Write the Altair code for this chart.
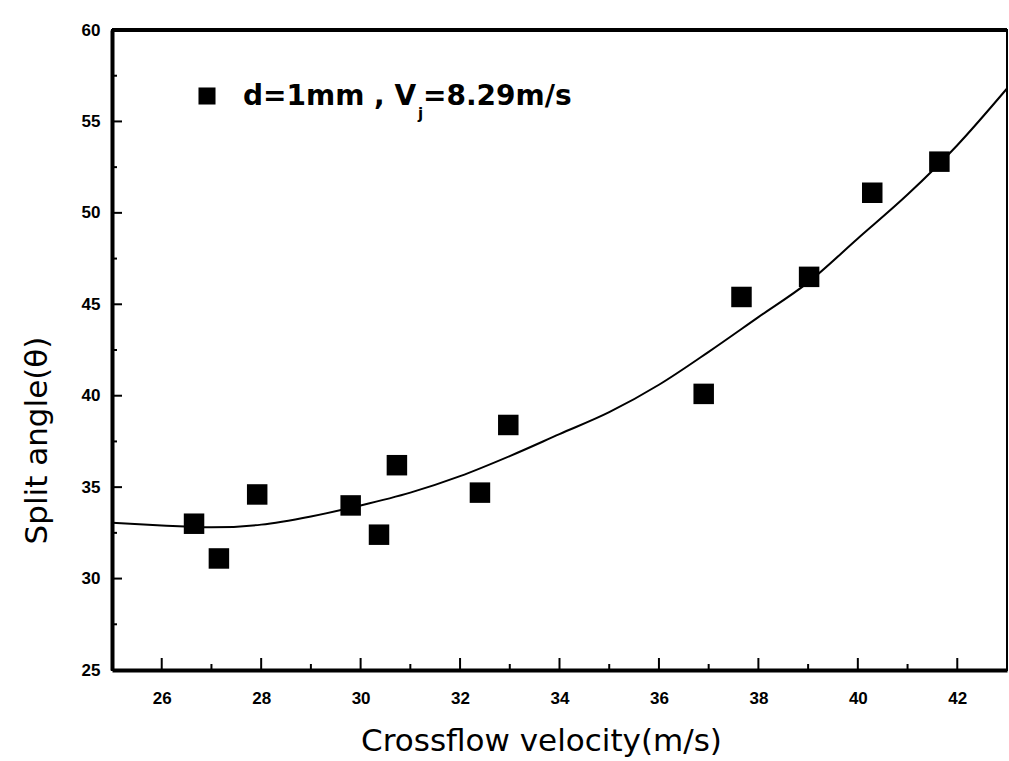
import altair as alt
import pandas as pd

# measured points
velocity = [26.65, 27.15, 27.92, 29.8, 30.37, 30.73, 32.4, 32.97, 36.9, 37.66, 39.02, 40.29, 41.64]
angle = [33.0, 31.1, 34.6, 34.0, 32.4, 36.2, 34.7, 38.4, 40.1, 45.4, 46.5, 51.1, 52.8]

# fitted curve
fit_velocity = [25, 26, 27, 28, 29, 30, 31, 32, 33, 34, 35, 36, 37, 38, 39, 40, 41, 42, 43]
fit_angle = [33.05, 32.9, 32.8, 32.95, 33.4, 34.0, 34.7, 35.6, 36.7, 37.9, 39.1, 40.6,
             42.4, 44.3, 46.2, 48.6, 51.0, 53.7, 56.8]

x_major = [26, 28, 30, 32, 34, 36, 38, 40, 42]
x_minor = [27, 29, 31, 33, 35, 37, 39, 41]
y_major = [30, 35, 40, 45, 50, 55]
y_minor = [27.5, 32.5, 37.5, 42.5, 47.5, 52.5, 57.5]
y_labels = [25, 30, 35, 40, 45, 50, 55, 60]

legend_text = ["d=1mm , V", "j", "=8.29m/s"]

W, H = 895, 640
xs = alt.Scale(domain=[25, 43], nice=False, zero=False)
ys = alt.Scale(domain=[25, 60], nice=False, zero=False)

x_axis = alt.Axis(
    title="Crossflow velocity(m/s)", values=x_major, format="d",
    grid=False, ticks=False, tickSize=0, labelPadding=20,
    labelFont="Liberation Sans", labelFontWeight="bold", labelFontSize=17,
    labelColor="black", domainColor="black", domainWidth=4,
    titleFont="DejaVu Sans", titleFontWeight="normal", titleFontSize=31,
    titleColor="black", titleX=429, titleY=71, titleBaseline="middle")
y_axis = alt.Axis(
    title="Split angle(\u03b8)", values=y_labels, format="d",
    grid=False, ticks=False, tickSize=0, labelPadding=12,
    labelFont="Liberation Sans", labelFontWeight="bold", labelFontSize=17,
    labelColor="black", domainColor="black", domainWidth=4,
    titleFont="DejaVu Sans", titleFontWeight="normal", titleFontSize=31,
    titleColor="black", titleX=-75, titleY=410, titleBaseline="middle",
    titleAngle=270)

def X(field):
    return alt.X(f"{field}:Q", scale=xs, axis=x_axis)

def Y(field):
    return alt.Y(f"{field}:Q", scale=ys, axis=y_axis)

pts = pd.DataFrame({"v": velocity, "a": angle})
fit = pd.DataFrame({"v": fit_velocity, "a": fit_angle})

line = alt.Chart(fit).mark_line(color="black", strokeWidth=2, interpolate="monotone").encode(
    x=X("v"), y=Y("a"))

points = alt.Chart(pts).mark_square(color="black", size=420, opacity=1).encode(
    x=X("v"), y=Y("a"))

def xticks(vals, length):
    return alt.Chart(pd.DataFrame({"v": vals})).mark_rule(color="black", strokeWidth=2).encode(
        x=X("v"), y=alt.value(H), y2=alt.value(H - length))

def yticks(vals, length):
    return alt.Chart(pd.DataFrame({"a": vals})).mark_rule(color="black", strokeWidth=2).encode(
        y=Y("a"), x=alt.value(0), x2=alt.value(length))

one = pd.DataFrame({"k": [0]})
top_border = alt.Chart(one).mark_rule(color="black", strokeWidth=4).encode(
    x=alt.value(0), x2=alt.value(W), y=alt.value(0))
leg_sq = alt.Chart(one).mark_square(color="black", size=290, opacity=1).encode(
    x=alt.value(95), y=alt.value(66))
leg_t1 = alt.Chart(one).mark_text(align="left", baseline="middle", font="DejaVu Sans",
                                  fontWeight="bold", fontSize=28, color="black").encode(
    x=alt.value(131), y=alt.value(67), text=alt.value(legend_text[0]))
leg_t2 = alt.Chart(one).mark_text(align="left", baseline="middle", font="DejaVu Sans",
                                  fontWeight="bold", fontSize=15, color="black").encode(
    x=alt.value(306), y=alt.value(84), text=alt.value(legend_text[1]))
leg_t3 = alt.Chart(one).mark_text(align="left", baseline="middle", font="DejaVu Sans",
                                  fontWeight="bold", fontSize=28, color="black").encode(
    x=alt.value(311), y=alt.value(67), text=alt.value(legend_text[2]))

chart = alt.layer(
    line, points,
    xticks(x_major, 12), xticks(x_minor, 6),
    yticks(y_major, 10), yticks(y_minor, 5),
    top_border, leg_sq, leg_t1, leg_t2, leg_t3,
).properties(
    width=W, height=H,
    autosize=alt.AutoSizeParams(type="none"),
    padding={"left": 112, "top": 30, "right": 2, "bottom": 91},
    background="white",
).configure_view(stroke="black", strokeWidth=2)

chart.save("out.html", embed_options={"renderer": "svg", "actions": False})
